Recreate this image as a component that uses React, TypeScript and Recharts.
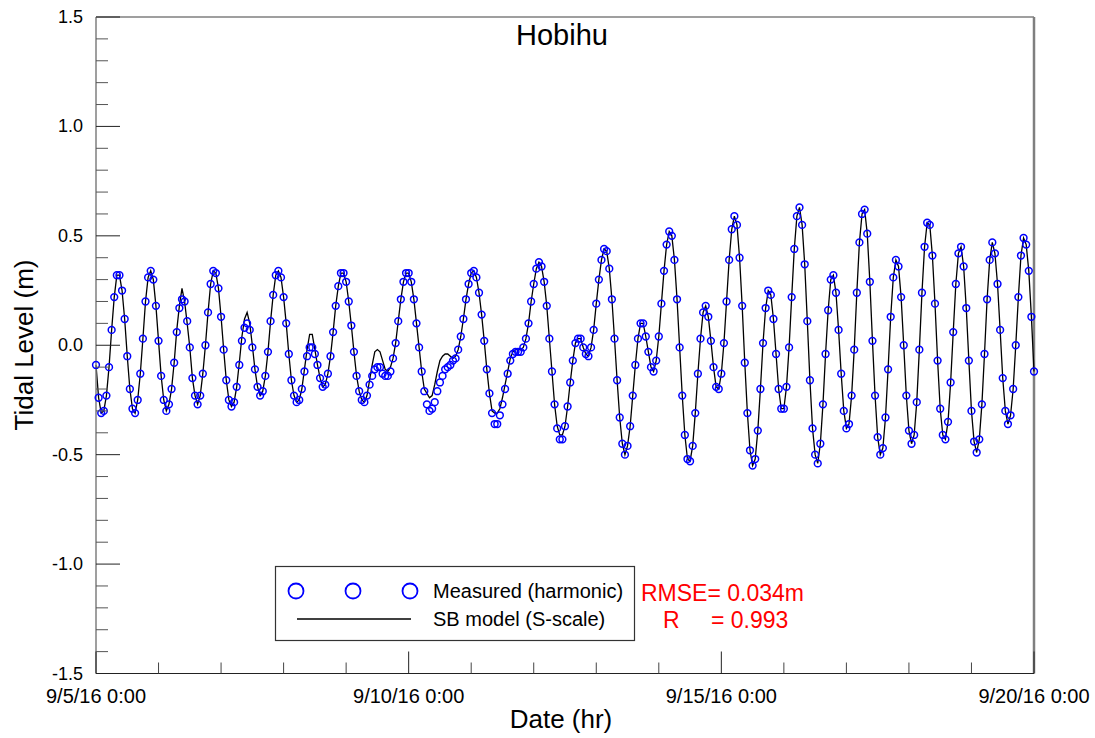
import { ComposedChart, Line, XAxis, YAxis, ReferenceLine } from 'recharts'

// hourly tidal level (m), starting 9/5/16 0:00
const MEASURED = [
  -0.09, -0.24, -0.31, -0.30, -0.23, -0.10, 0.07, 0.22, 0.32, 0.32, 0.25, 0.12,
  -0.05, -0.20, -0.29, -0.31, -0.25, -0.13, 0.03, 0.20, 0.31, 0.34, 0.30, 0.18,
  0.02, -0.14, -0.25, -0.30, -0.27, -0.20, -0.08, 0.06, 0.17, 0.21, 0.20, 0.11,
  -0.01, -0.15, -0.23, -0.27, -0.23, -0.13, 0.00, 0.15, 0.28, 0.34, 0.33, 0.26,
  0.13, -0.02, -0.16, -0.25, -0.28, -0.26, -0.19, -0.09, 0.02, 0.08, 0.10, 0.07,
  -0.01, -0.11, -0.19, -0.23, -0.21, -0.14, -0.03, 0.11, 0.23, 0.32, 0.34, 0.31,
  0.22, 0.10, -0.04, -0.16, -0.23, -0.26, -0.25, -0.20, -0.12, -0.05, -0.01, -0.01,
  -0.04, -0.09, -0.15, -0.19, -0.18, -0.13, -0.05, 0.06, 0.18, 0.27, 0.33, 0.33,
  0.29, 0.20, 0.09, -0.03, -0.14, -0.21, -0.25, -0.26, -0.23, -0.18, -0.14, -0.11,
  -0.10, -0.10, -0.13, -0.14, -0.14, -0.12, -0.06, 0.01, 0.11, 0.21, 0.29, 0.33,
  0.33, 0.29, 0.21, 0.10, -0.01, -0.12, -0.21, -0.27, -0.30, -0.29, -0.26, -0.21,
  -0.17, -0.14, -0.11, -0.10, -0.09, -0.07, -0.06, -0.02, 0.04, 0.12, 0.21, 0.28,
  0.33, 0.34, 0.31, 0.24, 0.14, 0.02, -0.11, -0.22, -0.31, -0.36, -0.36, -0.32,
  -0.27, -0.20, -0.13, -0.07, -0.04, -0.03, -0.03, -0.03, -0.01, 0.03, 0.10, 0.20,
  0.28, 0.35, 0.38, 0.36, 0.29, 0.18, 0.03, -0.12, -0.27, -0.38, -0.43, -0.43,
  -0.37, -0.28, -0.17, -0.07, 0.01, 0.03, 0.03, -0.01, -0.04, -0.05, -0.01, 0.07,
  0.19, 0.30, 0.39, 0.44, 0.43, 0.35, 0.21, 0.03, -0.16, -0.33, -0.45, -0.50,
  -0.46, -0.37, -0.23, -0.09, 0.03, 0.10, 0.10, 0.04, -0.03, -0.10, -0.12, -0.07,
  0.04, 0.19, 0.34, 0.46, 0.52, 0.50, 0.39, 0.21, -0.01, -0.23, -0.41, -0.52,
  -0.53, -0.46, -0.31, -0.13, 0.03, 0.15, 0.18, 0.13, 0.02, -0.10, -0.19, -0.20,
  -0.13, 0.01, 0.20, 0.39, 0.53, 0.59, 0.55, 0.40, 0.18, -0.08, -0.31, -0.48,
  -0.55, -0.52, -0.39, -0.20, 0.01, 0.17, 0.25, 0.23, 0.12, -0.04, -0.20, -0.29,
  -0.29, -0.19, -0.01, 0.22, 0.44, 0.59, 0.63, 0.55, 0.37, 0.11, -0.16, -0.38,
  -0.50, -0.54, -0.45, -0.27, -0.04, 0.16, 0.30, 0.32, 0.24, 0.07, -0.13, -0.30,
  -0.38, -0.36, -0.23, -0.02, 0.24, 0.47, 0.60, 0.62, 0.51, 0.29, 0.02, -0.23,
  -0.42, -0.50, -0.47, -0.33, -0.11, 0.13, 0.31, 0.39, 0.36, 0.22, 0.00, -0.23,
  -0.39, -0.45, -0.41, -0.26, -0.02, 0.24, 0.45, 0.56, 0.55, 0.41, 0.19, -0.07,
  -0.29, -0.41, -0.43, -0.35, -0.17, 0.06, 0.28, 0.42, 0.45, 0.36, 0.17, -0.07,
  -0.30, -0.44, -0.49, -0.43, -0.27, -0.04, 0.21, 0.39, 0.47, 0.42, 0.28, 0.07,
  -0.15, -0.30, -0.36, -0.32, -0.20, 0.00, 0.22, 0.41, 0.49, 0.46, 0.34, 0.13,
  -0.12,
]

// SB model (S-scale), same hours
const MODEL = [
  -0.09, -0.24, -0.31, -0.30, -0.23, -0.10, 0.07, 0.22, 0.32, 0.32, 0.25, 0.12,
  -0.05, -0.20, -0.29, -0.31, -0.25, -0.13, 0.03, 0.20, 0.31, 0.34, 0.30, 0.18,
  0.02, -0.14, -0.25, -0.30, -0.27, -0.20, -0.08, 0.07, 0.18, 0.26, 0.20, 0.10,
  -0.01, -0.15, -0.23, -0.27, -0.23, -0.13, 0.00, 0.15, 0.28, 0.34, 0.33, 0.26,
  0.13, -0.02, -0.16, -0.25, -0.28, -0.26, -0.19, -0.08, 0.04, 0.12, 0.15, 0.10,
  0.00, -0.11, -0.19, -0.23, -0.21, -0.14, -0.03, 0.11, 0.23, 0.32, 0.34, 0.31,
  0.22, 0.10, -0.04, -0.16, -0.23, -0.26, -0.25, -0.20, -0.11, -0.02, 0.05, 0.05,
  -0.02, -0.09, -0.15, -0.19, -0.18, -0.13, -0.05, 0.06, 0.18, 0.27, 0.33, 0.33,
  0.29, 0.20, 0.09, -0.03, -0.14, -0.21, -0.25, -0.26, -0.23, -0.16, -0.09, -0.03,
  -0.02, -0.03, -0.07, -0.11, -0.12, -0.10, -0.06, 0.01, 0.11, 0.21, 0.29, 0.33,
  0.33, 0.29, 0.21, 0.10, -0.01, -0.12, -0.20, -0.22, -0.24, -0.23, -0.18, -0.12,
  -0.07, -0.05, -0.04, -0.04, -0.05, -0.06, -0.05, -0.02, 0.04, 0.12, 0.21, 0.28,
  0.33, 0.34, 0.31, 0.24, 0.14, 0.02, -0.11, -0.22, -0.30, -0.31, -0.31, -0.29,
  -0.24, -0.18, -0.12, -0.06, -0.03, -0.02, -0.02, -0.02, -0.01, 0.03, 0.10, 0.20,
  0.28, 0.35, 0.38, 0.36, 0.29, 0.18, 0.03, -0.12, -0.27, -0.37, -0.41, -0.41,
  -0.37, -0.28, -0.17, -0.07, 0.01, 0.03, 0.03, -0.01, -0.04, -0.05, -0.01, 0.07,
  0.19, 0.30, 0.39, 0.44, 0.43, 0.35, 0.21, 0.03, -0.16, -0.33, -0.45, -0.50,
  -0.46, -0.37, -0.23, -0.09, 0.03, 0.10, 0.10, 0.04, -0.03, -0.10, -0.12, -0.07,
  0.04, 0.19, 0.34, 0.46, 0.52, 0.50, 0.39, 0.21, -0.01, -0.23, -0.41, -0.52,
  -0.53, -0.46, -0.31, -0.13, 0.03, 0.15, 0.18, 0.13, 0.02, -0.10, -0.19, -0.20,
  -0.13, 0.01, 0.20, 0.39, 0.53, 0.59, 0.55, 0.40, 0.18, -0.08, -0.31, -0.48,
  -0.55, -0.52, -0.39, -0.20, 0.01, 0.17, 0.25, 0.23, 0.12, -0.04, -0.20, -0.29,
  -0.29, -0.19, -0.01, 0.22, 0.44, 0.59, 0.63, 0.55, 0.37, 0.11, -0.16, -0.38,
  -0.50, -0.54, -0.45, -0.27, -0.04, 0.16, 0.30, 0.32, 0.24, 0.07, -0.13, -0.30,
  -0.38, -0.36, -0.23, -0.02, 0.24, 0.47, 0.60, 0.62, 0.51, 0.29, 0.02, -0.23,
  -0.42, -0.50, -0.47, -0.33, -0.11, 0.13, 0.31, 0.39, 0.36, 0.22, 0.00, -0.23,
  -0.39, -0.45, -0.41, -0.26, -0.02, 0.24, 0.45, 0.56, 0.55, 0.41, 0.19, -0.07,
  -0.29, -0.41, -0.43, -0.35, -0.17, 0.06, 0.28, 0.42, 0.45, 0.36, 0.17, -0.07,
  -0.30, -0.44, -0.49, -0.43, -0.27, -0.04, 0.21, 0.39, 0.47, 0.42, 0.28, 0.07,
  -0.15, -0.30, -0.36, -0.32, -0.20, 0.00, 0.22, 0.41, 0.49, 0.46, 0.34, 0.13,
  -0.12,
]

const X_TICKS = [0, 24, 48, 72, 96, 120, 144, 168, 192, 216, 240, 264, 288, 312, 336, 360]
const X_LABELS: Record<number, string> = {
  0: '9/5/16 0:00',
  120: '9/10/16 0:00',
  240: '9/15/16 0:00',
  360: '9/20/16 0:00',
}
const Y_TICKS = [
  -1.5, -1.4, -1.3, -1.2, -1.1, -1.0, -0.9, -0.8, -0.7, -0.6, -0.5, -0.4, -0.3, -0.2, -0.1, 0,
  0.1, 0.2, 0.3, 0.4, 0.5, 0.6, 0.7, 0.8, 0.9, 1.0, 1.1, 1.2, 1.3, 1.4, 1.5,
]

const FONT = '"Liberation Sans", Arial, Helvetica, sans-serif'
const AXIS_GRAY = '#7f7f7f'

const rows = MEASURED.map((m, i) => ({ hour: i, measured: m, model: MODEL[i] }))

function YTick(props: any) {
  const { x, y, payload } = props
  const v = payload.value
  const major = Math.abs(v * 2 - Math.round(v * 2)) < 1e-6
  return (
    <g>
      <line x1={x} x2={x + (major ? 24 : 12)} y1={y} y2={y} stroke={major ? '#222' : '#555'} strokeWidth={1} />
      {major && (
        <text x={x - 13} y={y + 6} textAnchor="end" fontSize={18} fontFamily={FONT} fill="#000">
          {v.toFixed(1)}
        </text>
      )}
    </g>
  )
}

function XTick(props: any) {
  const { x, y, payload } = props
  const label = X_LABELS[payload.value]
  const major = label !== undefined
  return (
    <g>
      <line x1={x} x2={x} y1={y} y2={y - (major ? 22 : 11)} stroke={major ? '#222' : '#444'} strokeWidth={1} />
      {major && (
        <text x={x} y={y + 29} textAnchor="middle" fontSize={20} fontFamily={FONT} fill="#000">
          {label}
        </text>
      )}
    </g>
  )
}

export default function App() {
  return (
    <div style={{ position: 'absolute', left: 0, top: 0, width: 1095, height: 738, background: '#fff' }}>
      <ComposedChart
        width={1095}
        height={738}
        data={rows}
        margin={{ top: 17, right: 61, bottom: 24.5, left: 36 }}
      >
        <XAxis
          dataKey="hour"
          type="number"
          domain={[0, 360]}
          ticks={X_TICKS}
          interval={0}
          height={40}
          tickSize={0}
          tickMargin={0}
          tick={<XTick />}
          axisLine={{ stroke: '#222', strokeWidth: 1.2 }}
          tickLine={false}
        />
        <YAxis
          type="number"
          domain={[-1.5, 1.5]}
          ticks={Y_TICKS}
          interval={0}
          width={60}
          tickSize={0}
          tickMargin={0}
          tick={<YTick />}
          axisLine={{ stroke: AXIS_GRAY, strokeWidth: 1.5 }}
          tickLine={false}
        />
        <ReferenceLine y={1.5} stroke={AXIS_GRAY} strokeWidth={1.5} />
        <ReferenceLine x={360} stroke={AXIS_GRAY} strokeWidth={2.5} />
        <Line
          dataKey="model"
          type="linear"
          stroke="#000"
          strokeWidth={1.3}
          dot={false}
          activeDot={false}
          isAnimationActive={false}
        />
        <Line
          dataKey="measured"
          type="linear"
          stroke="none"
          dot={{ r: 3.4, fill: 'none', stroke: '#0000ff', strokeWidth: 1.5 }}
          activeDot={false}
          isAnimationActive={false}
        />
      </ComposedChart>
      <svg
        width={1095}
        height={738}
        style={{ position: 'absolute', left: 0, top: 0, pointerEvents: 'none' }}
        fontFamily={FONT}
      >
        <text x={562} y={45} textAnchor="middle" fontSize={29} fill="#000">
          Hobihu
        </text>
        <text x={561} y={728} textAnchor="middle" fontSize={26} fill="#000">
          Date (hr)
        </text>
        <text x={33} y={345} textAnchor="middle" fontSize={26} fill="#000" transform="rotate(-90 33 345)">
          Tidal Level (m)
        </text>
        <rect x={275.5} y={566.5} width={359} height={74} fill="#fff" stroke="#333" strokeWidth={1.2} />
        <circle cx={296} cy={591} r={7.5} fill="none" stroke="#0000ff" strokeWidth={1.8} />
        <circle cx={353} cy={591} r={7.5} fill="none" stroke="#0000ff" strokeWidth={1.8} />
        <circle cx={410} cy={591} r={7.5} fill="none" stroke="#0000ff" strokeWidth={1.8} />
        <text x={433} y={598} fontSize={20} fill="#000">
          Measured (harmonic)
        </text>
        <line x1={297} x2={411} y1={619} y2={619} stroke="#000" strokeWidth={1.3} />
        <text x={433} y={626} fontSize={20} fill="#000">
          SB model (S-scale)
        </text>
        <text x={641} y={601} fontSize={23} fill="#ff0000">
          RMSE= 0.034m
        </text>
        <text x={663} y={628} fontSize={23} fill="#ff0000">
          R
        </text>
        <text x={711} y={628} fontSize={23} fill="#ff0000">
          = 0.993
        </text>
      </svg>
    </div>
  )
}
